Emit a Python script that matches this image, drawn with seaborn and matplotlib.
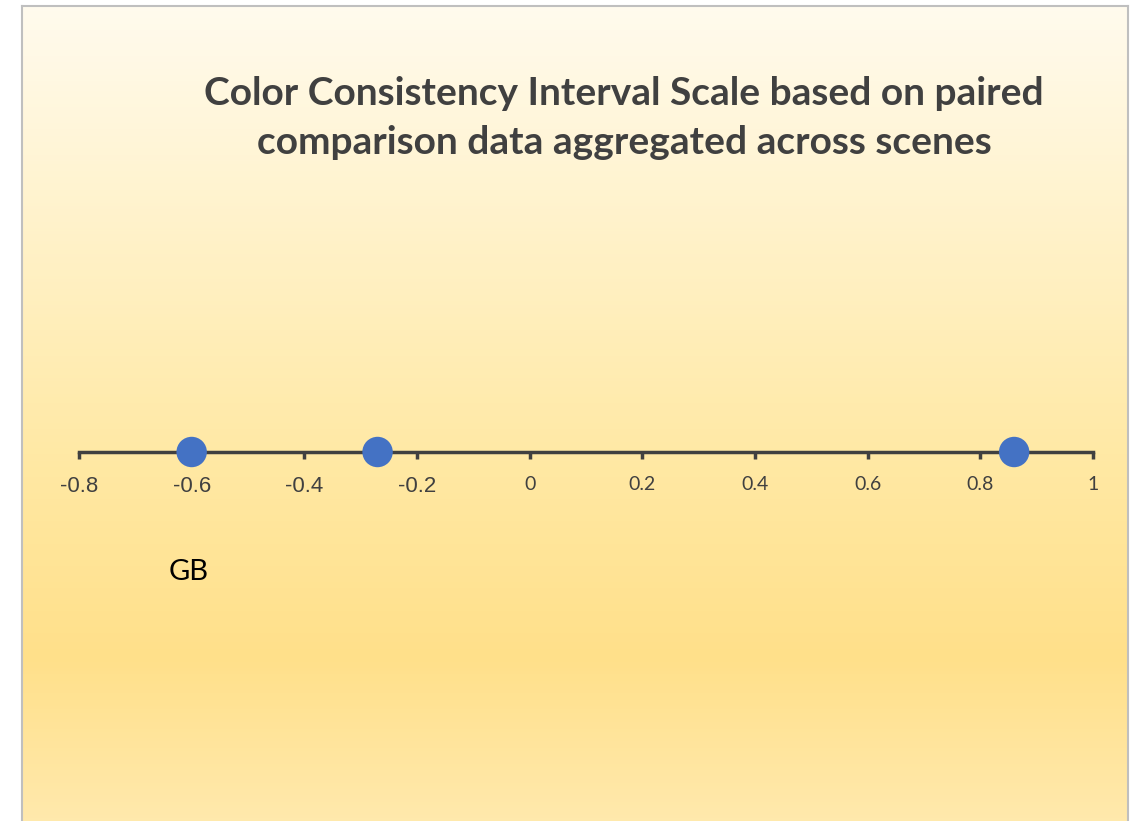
import numpy as np
import pandas as pd
import matplotlib.pyplot as plt
import matplotlib.colors as mcolors
import seaborn as sns

sns.set_style("white")
plt.rcParams['font.family'] = ['Lato', 'DejaVu Sans']

# scale values
scale_values = [-0.6, -0.27, 0.86]
tick_values = [-0.8, -0.6, -0.4, -0.2, 0, 0.2, 0.4, 0.6, 0.8, 1]
tick_labels = ["-0.8", "-0.6", "-0.4", "-0.2", "0", "0.2", "0.4", "0.6", "0.8", "1"]
title = "Color Consistency Interval Scale based on paired\ncomparison data aggregated across scenes"
label_text = "GB"

df = pd.DataFrame({"value": scale_values, "y": [0] * len(scale_values)})

W, H = 1130, 821
fig = plt.figure(figsize=(W / 100, H / 100), dpi=100)

# background gradient panel (chart area)
bg = fig.add_axes([22 / W, 0, (1128 - 22) / W, 1 - 6 / H])
grad_cmap = mcolors.LinearSegmentedColormap.from_list(
    "bg", [(0, "#FFFBEE"), (0.55, "#FFE9A5"), (0.8, "#FFE08A"), (1, "#FFE9AC")])
grad = np.linspace(0, 1, 256).reshape(-1, 1)
bg.imshow(grad, aspect="auto", cmap=grad_cmap, extent=[0, 1, 0, 1], origin="upper")
bg.set_xlim(0, 1)
bg.set_ylim(0, 1)
bg.set_xticks([])
bg.set_yticks([])
for side in ["left", "top", "right"]:
    bg.spines[side].set_color("#BFBFBF")
    bg.spines[side].set_linewidth(1.5)
bg.spines["bottom"].set_visible(False)

# main axis strip
axis_y = 452
strip_h = 100
ax = fig.add_axes([79 / W, (H - axis_y - strip_h / 2) / H, (1093 - 79) / W, strip_h / H])
ax.patch.set_alpha(0)
sns.scatterplot(data=df, x="value", y="y", ax=ax, s=480, color="#4472C4",
                edgecolor="none", zorder=5, clip_on=False, legend=False)
ax.set_xlim(-0.8, 1.0)
ax.set_ylim(-1, 1)
ax.set_xlabel("")
ax.set_ylabel("")
ax.set_yticks([])
ax.set_xticks(tick_values)
ax.set_xticklabels(tick_labels)
for side in ["left", "top", "right"]:
    ax.spines[side].set_visible(False)
ax.spines["bottom"].set_position(("data", 0))
ax.spines["bottom"].set_color("#404040")
ax.spines["bottom"].set_linewidth(2.5)
ax.tick_params(axis="x", direction="out", length=5, width=2.5, color="#404040",
               pad=12, labelsize=14, labelcolor="#404040", bottom=True)
for lbl in ax.get_xticklabels():
    if lbl.get_text().startswith("-"):
        lbl.set_family(["Liberation Sans", "DejaVu Sans"])
        lbl.set_fontsize(16)

fig.text(624 / W, 1 - 118 / H, title, ha="center", va="center", fontsize=28,
         fontweight="bold", color="#404040", linespacing=1.45)
fig.text(189 / W, 1 - 572 / H, label_text, ha="center", va="center", fontsize=21,
         color="black")

fig.savefig("out.png", dpi=100)
